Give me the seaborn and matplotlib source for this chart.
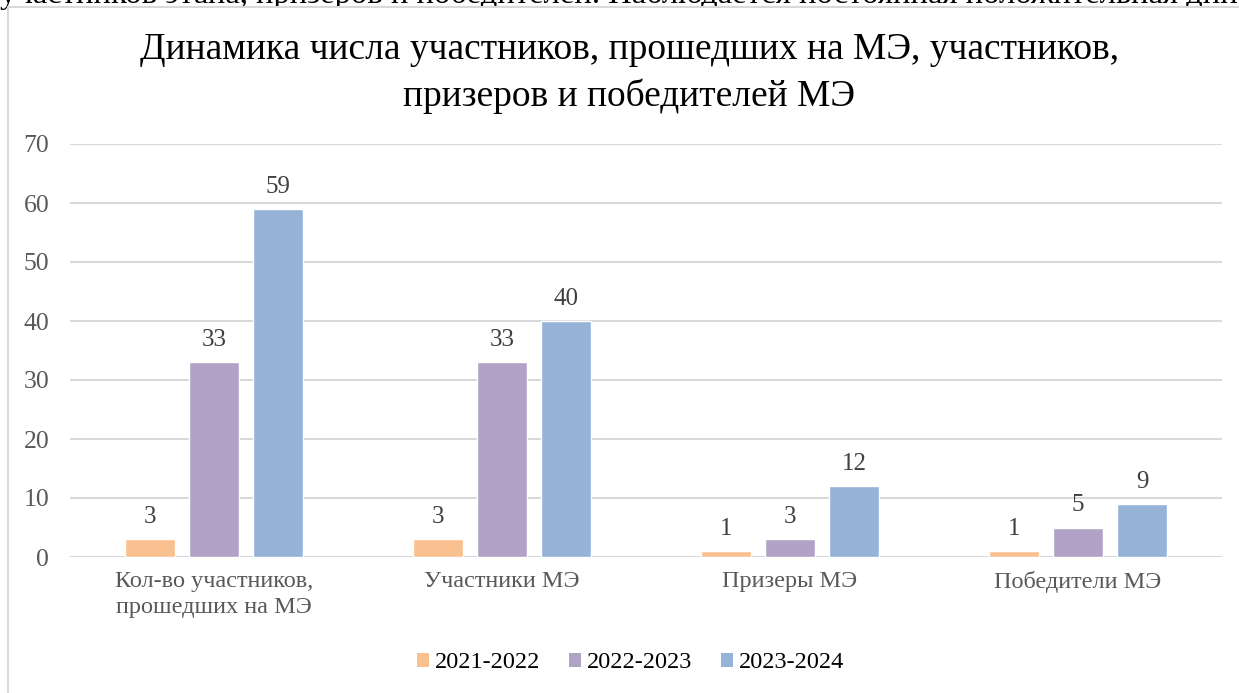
import matplotlib
matplotlib.use("Agg")
import matplotlib.pyplot as plt
import seaborn as sns
import pandas as pd
from matplotlib.patches import Rectangle

categories = ["Кол-во участников,\nпрошедших на МЭ", "Участники МЭ", "Призеры МЭ", "Победители МЭ"]
years = ["2021-2022", "2022-2023", "2023-2024"]
vals_2021 = [3, 3, 1, 1]
vals_2022 = [33, 33, 3, 5]
vals_2023 = [59, 40, 12, 9]
colors = ["#FAC090", "#B3A2C7", "#95B3D7"]

title = "Динамика числа участников, прошедших на МЭ, участников,\nпризеров и победителей МЭ"
top_text = "участников этапа, призеров и победителей. Наблюдается постоянная положительная динамика"

df = pd.DataFrame({
    "category": categories * 3,
    "year": [years[0]] * 4 + [years[1]] * 4 + [years[2]] * 4,
    "value": vals_2021 + vals_2022 + vals_2023,
})

sns.set_theme(style="white")
plt.rcParams["font.family"] = ["Liberation Serif", "DejaVu Serif"]

W, H = 1239, 693
fig = plt.figure(figsize=(W / 100, H / 100), dpi=100)
fig.patch.set_facecolor("white")

# line of document text running above the chart
fig.text(0.0, (H - 3) / H, top_text, ha="left", va="baseline", fontsize=23.5,
         color="black", zorder=-2)

# chart frame (partially visible on the left and top)
fig.add_artist(Rectangle((8 / W, -0.1), 1.2, (H - 7) / H + 0.1, transform=fig.transFigure,
                         facecolor="white", edgecolor="#d9d9d9", linewidth=1.5, zorder=-1))

ax = fig.add_axes([70 / W, (H - 557) / H, (1222 - 70) / W, (557 - 144) / H])
ax.patch.set_alpha(0)
sns.barplot(data=df, x="category", y="value", hue="year", palette=colors,
            width=0.667, gap=0.22, ax=ax, legend=False, saturation=1)

ax.set_ylim(0, 70)
ax.set_yticks(range(0, 71, 10))
ax.set_xlim(-0.5, 3.5)
ax.grid(axis="y", color="#d9d9d9", linewidth=1.5)
ax.set_axisbelow(True)
for s in ax.spines.values():
    s.set_visible(False)
ax.set_xlabel("")
ax.set_ylabel("")
ax.tick_params(axis="y", length=0, pad=15, labelsize=18.5, labelcolor="#595959")
ax.tick_params(axis="x", length=0, pad=10, labelsize=17.5, labelcolor="#595959")
for lbl in ax.get_xticklabels():
    lbl.set_linespacing(1.3)

for cont in ax.containers:
    ax.bar_label(cont, fmt="%d", padding=8, fontsize=18, color="#404040")

fig.text(0.508, (H - 50) / H, title.split("\n")[0], ha="center", va="center",
         fontsize=27, color="black")
fig.text(0.508, (H - 96) / H, title.split("\n")[1], ha="center", va="center",
         fontsize=27, color="black")

handles = [Rectangle((0, 0), 1, 1, facecolor=c, edgecolor="none") for c in colors]
fig.legend(handles, years, loc="center", bbox_to_anchor=(0.509, (H - 663) / H), ncol=3,
           frameon=False, fontsize=17.5, handlelength=0.47, handleheight=0.47,
           handletextpad=0.25, columnspacing=1.2, labelcolor="black")

fig.savefig("out.png", dpi=100)
